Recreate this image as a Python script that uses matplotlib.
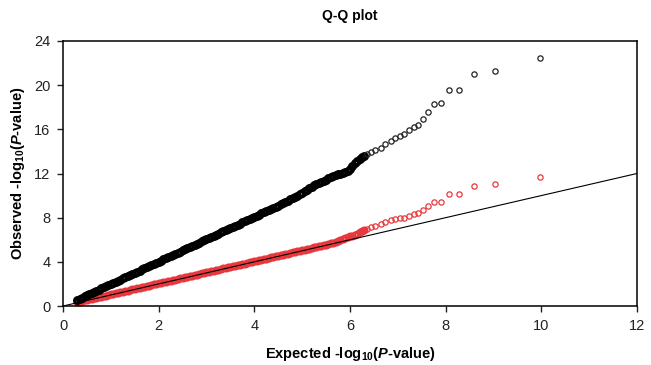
import matplotlib
matplotlib.use("Agg")
import matplotlib.pyplot as plt

# dense part of the Q-Q curves (expected -log10 P)
x_dense = [0.30, 0.35, 0.40, 0.45, 0.50, 0.55, 0.60, 0.65, 0.70, 0.75,
           0.80, 0.85, 0.90, 0.95, 1.00, 1.05, 1.10, 1.15, 1.20, 1.25,
           1.30, 1.35, 1.40, 1.45, 1.50, 1.55, 1.60, 1.65, 1.70, 1.75,
           1.80, 1.85, 1.90, 1.95, 2.00, 2.05, 2.10, 2.15, 2.20, 2.25,
           2.30, 2.35, 2.40, 2.45, 2.50, 2.55, 2.60, 2.65, 2.70, 2.75,
           2.80, 2.85, 2.90, 2.95, 3.00, 3.05, 3.10, 3.15, 3.20, 3.25,
           3.30, 3.35, 3.40, 3.45, 3.50, 3.55, 3.60, 3.65, 3.70, 3.75,
           3.80, 3.85, 3.90, 3.95, 4.00, 4.05, 4.10, 4.15, 4.20, 4.25,
           4.30, 4.35, 4.40, 4.45, 4.50, 4.55, 4.60, 4.65, 4.70, 4.75,
           4.80, 4.85, 4.90, 4.95, 5.00, 5.05, 5.10, 5.15, 5.20, 5.25,
           5.30, 5.35, 5.40, 5.45, 5.50, 5.55, 5.60, 5.65, 5.70, 5.75,
           5.80, 5.85, 5.90, 5.95, 6.00, 6.05, 6.10, 6.15, 6.20, 6.25, 6.30]

black_dense = [0.57, 0.67, 0.77, 0.87, 0.98, 1.08, 1.18, 1.28, 1.38, 1.48,
               1.59, 1.69, 1.79, 1.89, 1.99, 2.09, 2.19, 2.30, 2.40, 2.50,
               2.60, 2.70, 2.80, 2.90, 3.01, 3.11, 3.21, 3.31, 3.41, 3.51,
               3.62, 3.72, 3.82, 3.92, 4.02, 4.12, 4.22, 4.33, 4.43, 4.53,
               4.63, 4.73, 4.83, 4.93, 5.04, 5.14, 5.24, 5.34, 5.44, 5.54,
               5.65, 5.75, 5.85, 5.95, 6.05, 6.15, 6.25, 6.36, 6.46, 6.56,
               6.66, 6.76, 6.86, 6.96, 7.07, 7.17, 7.27, 7.37, 7.47, 7.57,
               7.68, 7.78, 7.88, 7.98, 8.08, 8.18, 8.28, 8.39, 8.49, 8.59,
               8.69, 8.79, 8.89, 8.99, 9.10, 9.21, 9.32, 9.43, 9.54, 9.65,
               9.76, 9.88, 10.00, 10.12, 10.25, 10.38, 10.52, 10.66, 10.80, 10.95,
               11.05, 11.15, 11.25, 11.35, 11.45, 11.55, 11.65, 11.75, 11.85, 11.92,
               11.98, 12.05, 12.12, 12.25, 12.45, 12.70, 12.95, 13.15, 13.30, 13.45, 13.60]

red_dense = [0.35, 0.40, 0.45, 0.50, 0.55, 0.60, 0.65, 0.70, 0.75, 0.80,
             0.85, 0.90, 0.95, 1.00, 1.05, 1.10, 1.15, 1.20, 1.25, 1.30,
             1.35, 1.40, 1.45, 1.50, 1.55, 1.60, 1.65, 1.70, 1.75, 1.80,
             1.85, 1.90, 1.95, 2.00, 2.05, 2.10, 2.15, 2.20, 2.25, 2.30,
             2.35, 2.40, 2.45, 2.50, 2.55, 2.60, 2.65, 2.70, 2.75, 2.80,
             2.85, 2.90, 2.95, 3.00, 3.05, 3.10, 3.15, 3.20, 3.25, 3.30,
             3.35, 3.40, 3.45, 3.50, 3.55, 3.60, 3.65, 3.70, 3.75, 3.80,
             3.85, 3.90, 3.95, 4.00, 4.05, 4.10, 4.15, 4.20, 4.25, 4.30,
             4.35, 4.40, 4.45, 4.50, 4.55, 4.60, 4.65, 4.70, 4.75, 4.80,
             4.85, 4.90, 4.95, 5.00, 5.05, 5.10, 5.15, 5.20, 5.25, 5.30,
             5.35, 5.40, 5.45, 5.50, 5.55, 5.63, 5.69, 5.75, 5.82, 5.90,
             5.98, 6.06, 6.14, 6.22, 6.30, 6.38, 6.46, 6.56, 6.66, 6.76, 6.86]

# sparse tail
x_tail = [6.35, 6.43, 6.53, 6.64, 6.74, 6.85, 6.95, 7.04, 7.12, 7.23, 7.33,
          7.42, 7.52, 7.63, 7.76, 7.90, 8.07, 8.28, 8.59, 9.03, 9.97]
black_tail = [13.75, 13.95, 14.10, 14.35, 14.70, 14.95, 15.20, 15.40, 15.55, 15.90, 16.20,
              16.40, 16.90, 17.60, 18.30, 18.40, 19.60, 19.60, 21.00, 21.30, 22.45]
red_tail = [6.98, 7.16, 7.27, 7.45, 7.64, 7.79, 7.85, 7.94, 8.00, 8.18, 8.36,
            8.40, 8.67, 9.06, 9.40, 9.45, 10.10, 10.10, 10.90, 11.05, 11.70]

plt.rcParams['font.family'] = ['Liberation Sans', 'DejaVu Sans']
plt.rcParams['mathtext.fontset'] = 'custom'
plt.rcParams['mathtext.rm'] = 'Liberation Sans:bold'
plt.rcParams['mathtext.it'] = 'Liberation Sans:bold:italic'

fig = plt.figure(figsize=(6.51, 3.65), dpi=100)
ax = fig.add_axes([0.0968, 0.1616, 0.8816, 0.7261])

red = '#e8383d'
# thick rings in the dense part so they merge into a solid band
ax.plot(x_dense, red_dense, 'o', mfc='none', mec=red, ms=4.0, mew=1.8, zorder=2)
ax.plot(x_dense, black_dense, 'o', mfc='none', mec='black', ms=4.4, mew=2.0, zorder=2)
ax.plot(x_tail, red_tail, 'o', mfc='none', mec=red, ms=3.8, mew=0.9, zorder=2)
ax.plot(x_tail, black_tail, 'o', mfc='none', mec='#222222', ms=3.8, mew=0.9, zorder=2)
ax.plot([0, 12], [0, 12], color='black', lw=0.8, zorder=3)

ax.set_xlim(0, 12)
ax.set_ylim(0, 24)
ax.set_xticks(range(0, 13, 2))
ax.set_yticks(range(0, 25, 4))
ax.tick_params(direction='out', length=4, width=1, labelsize=10.5, colors='#222222', pad=5)
for s in ax.spines.values():
    s.set_linewidth(1.1)

ax.set_title('Q-Q plot', fontsize=10, fontweight='bold', pad=15)
ax.set_xlabel(r'Expected -log$_{10}$($\it{P}$-value)', fontsize=10.5, fontweight='bold', labelpad=9)
ax.set_ylabel(r'Observed -log$_{10}$($\it{P}$-value)', fontsize=10.5, fontweight='bold', labelpad=5)

fig.savefig('out.png', dpi=100)
